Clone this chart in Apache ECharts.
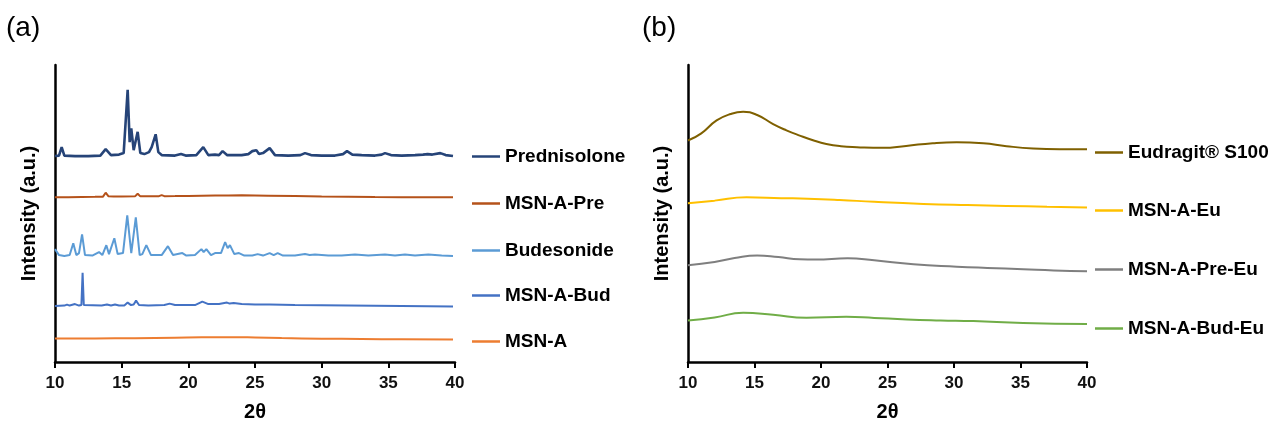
<!DOCTYPE html>
<html>
<head>
<meta charset="utf-8">
<script src="https://cdn.jsdelivr.net/npm/echarts@6/dist/echarts.min.js"></script>
<style>
  html, body { margin: 0; padding: 0; background: #fff; }
  #chart { width: 1269px; height: 427px; }
</style>
</head>
<body>
<div id="chart"></div>
<script>
// 2θ / intensity (a.u., traces offset as in the figure)
var prednisolone = [
    [10.0, 208], [10.3, 208.5], [10.5, 217], [10.7, 208.5], [11.5, 208], [12.5, 208], [13.4, 208.5],
    [13.8, 215], [14.2, 209], [14.8, 209.5], [15.15, 211], [15.45, 275], [15.6, 222], [15.72, 236],
    [15.9, 214], [16.2, 232.5], [16.4, 211], [16.7, 210], [17.05, 212], [17.25, 217], [17.55, 230],
    [17.75, 212], [18.0, 209], [19.0, 208.5], [19.45, 210], [19.8, 208.5], [20.6, 209], [21.12, 217],
    [21.5, 209], [22.0, 209.5], [22.3, 209], [22.57, 213], [22.9, 209], [24.0, 209], [24.5, 210],
    [24.8, 213], [24.95, 211], [25.1, 214], [25.3, 210], [25.6, 211], [26.1, 216], [26.5, 209],
    [27.5, 208.5], [28.4, 209], [28.75, 211], [29.2, 209], [30, 208.5], [31, 208.5], [31.6, 210],
    [31.9, 213], [32.3, 209.5], [33, 209], [34, 208.5], [34.5, 209.5], [34.75, 211], [35.2, 209],
    [36, 208.5], [37, 209], [37.6, 209.5], [37.95, 210], [38.3, 209.5], [38.9, 211], [39.3, 209], [39.85, 208]
];
var msnAPre = [
    [10.0, 166.5], [11, 166.5], [12, 166.7], [13, 166.8], [13.6, 167], [13.8, 171], [14.0, 167.5],
    [14.4, 167.2], [15, 167.2], [16.0, 167.3], [16.2, 170], [16.4, 167.3], [17, 167.4], [17.8, 167.5],
    [18.0, 168.5], [18.2, 167.5], [19, 167.6], [20, 167.8], [21, 168], [22, 168.2], [23, 168.3],
    [24, 168.4], [25, 168.2], [26, 168], [28, 167.6], [30, 167.2], [32, 167], [34, 166.7],
    [36, 166.5], [38, 166.3], [39.85, 166.3]
];
var budesonide = [
    [10.0, 114], [10.1, 115], [10.3, 108], [10.7, 107], [11.1, 108], [11.37, 120], [11.6, 108],
    [11.8, 110], [12.03, 129], [12.25, 108], [12.8, 107.5], [13.3, 111], [13.55, 108], [13.85, 118],
    [14.05, 109], [14.2, 110], [14.45, 125], [14.7, 109], [15.1, 110], [15.42, 148], [15.72, 110],
    [16.06, 146], [16.35, 108], [16.55, 109], [16.85, 118], [17.2, 108], [18.0, 108], [18.47, 117],
    [18.85, 108], [19.55, 110], [19.85, 107.5], [20.5, 108], [20.98, 114], [21.15, 111], [21.35, 114],
    [21.7, 108], [22.0, 110], [22.45, 110], [22.76, 121], [22.95, 115], [23.12, 118], [23.45, 109],
    [23.8, 110], [24.2, 107.5], [24.8, 107.5], [25.2, 109], [25.6, 107.5], [26.1, 110], [26.4, 108],
    [26.7, 110], [27.1, 107.5], [28.0, 107.5], [28.75, 109], [29.1, 108], [29.5, 108.5], [30.5, 107.5],
    [31.5, 107.5], [32.5, 108.5], [33.5, 107.5], [34.75, 108.5], [35.5, 107.5], [36.25, 108.5],
    [37.0, 107.5], [38, 108.5], [39, 107.5], [39.85, 107]
];
var msnABud = [
    [10.0, 56.5], [10.7, 57], [10.9, 58], [11.1, 57], [11.5, 58.5], [11.8, 57], [11.98, 57.5],
    [12.07, 90], [12.16, 57.5], [12.3, 57], [13.5, 57], [13.9, 58], [14.2, 57], [14.5, 58], [14.8, 57],
    [15.2, 57], [15.45, 60], [15.7, 57.5], [15.9, 58], [16.08, 62], [16.3, 57.5], [17.0, 57],
    [18.2, 57.5], [18.6, 59], [19.0, 57.5], [20.5, 57.5], [21.05, 61], [21.5, 58.5], [22.3, 58.5],
    [22.9, 60], [23.1, 59], [23.4, 59.5], [24, 58.5], [25, 58], [26.1, 58], [28, 57.5], [32, 57],
    [36, 56.5], [39.85, 56]
];
var msnA = [
    [10, 23.7], [13, 23.8], [16, 24.1], [19, 24.6], [21, 25], [23, 25.1], [25, 24.8], [27, 24.2],
    [30, 23.6], [33, 23.2], [36, 23], [39.85, 22.7]
];

var eudragit = [
    [10, 223.7], [11, 231], [12.15, 244], [13.2, 250.5], [14.15, 252.7], [15.2, 249.5], [16.4, 240.3],
    [17.4, 234], [18.4, 228.7], [19.4, 224], [20.4, 220.3], [21.5, 218], [22.7, 217], [24.65, 216.3],
    [26.4, 218.3], [28.4, 221], [30.2, 222], [32.2, 221], [33.95, 218], [35.95, 215.7], [37.95, 215], [40, 215]
];
var msnAEu = [
    [10, 160.3], [12, 163], [14.4, 166.3], [17, 165.5], [19, 165], [21.4, 163.7], [24, 161.8],
    [27.7, 159.7], [31, 158.5], [33.95, 157.7], [37, 156.8], [40, 156]
];
var msnAPreEu = [
    [10, 97.7], [12, 101], [13.5, 105], [15.2, 107.7], [16.8, 106], [18.4, 103.7], [19.6, 103.5],
    [22.0, 104.7], [24.0, 102.7], [26.95, 98.7], [30.2, 96.3], [32.5, 95], [35.2, 93.7], [37.5, 92.5], [40, 91.7]
];
var msnABudEu = [
    [10, 42], [12, 45], [14.15, 49.7], [16.4, 47.7], [18.9, 44.7], [21.9, 45.7], [24, 44.5],
    [26.45, 43], [29, 42], [31.45, 41.3], [35.2, 39.3], [40, 38.3]
];

var namesA = ["Prednisolone", "MSN-A-Pre", "Budesonide", "MSN-A-Bud", "MSN-A"];
var namesB = ["Eudragit® S100", "MSN-A-Eu", "MSN-A-Pre-Eu", "MSN-A-Bud-Eu"];
var colorsA = ["#264478", "#B5521A", "#5B9BD5", "#4472C4", "#ED7D31"];
var colorsB = ["#7F6000", "#FFC000", "#7F7F7F", "#70AD47"];
var dataA = [prednisolone, msnAPre, budesonide, msnABud, msnA];
var dataB = [eudragit, msnAEu, msnAPreEu, msnABudEu];
var legendTopA = [158, 205, 252, 297, 343];
var legendTopB = [154, 212, 271, 330];

var font = "'Liberation Sans', Arial, sans-serif";

function xAxis(idx) {
    return {
        type: "value", gridIndex: idx, min: 10, max: 40, interval: 5,
        name: "2θ", nameLocation: "middle", nameGap: 40,
        nameTextStyle: { fontFamily: font, fontWeight: "bold", fontSize: 20, color: "#000" },
        axisLine: { show: true, lineStyle: { color: "#000", width: 2.5 } },
        axisTick: { show: true, length: 6, lineStyle: { color: "#000", width: 2 } },
        axisLabel: { margin: 13, fontFamily: font, fontWeight: "bold", fontSize: 17, color: "#111" },
        splitLine: { show: false }
    };
}
function yAxis(idx) {
    return {
        type: "value", gridIndex: idx, min: 0, max: 300,
        name: "Intensity (a.u.)", nameLocation: "middle", nameGap: 16,
        nameTextStyle: { fontFamily: font, fontWeight: "bold", fontSize: 20, color: "#000" },
        axisLine: { show: true, onZero: false, lineStyle: { color: "#000", width: 2.5 } },
        axisTick: { show: false },
        axisLabel: { show: false },
        splitLine: { show: false }
    };
}

var series = [];
var legends = [];
function addGroup(names, colors, data, tops, gridIdx, legendLeft, smooth) {
    for (var i = 0; i < names.length; i++) {
        series.push({
            name: names[i], type: "line", xAxisIndex: gridIdx, yAxisIndex: gridIdx,
            data: data[i], showSymbol: false, symbol: "none", smooth: smooth || (i === names.length - 1 && gridIdx === 0),
            lineStyle: { color: colors[i], width: (gridIdx === 0 && i === 0) ? 2.6 : 2 },
            itemStyle: { color: colors[i] }
        });
        legends.push({
            data: [names[i]], left: legendLeft, top: tops[i] - 11, orient: "horizontal",
            icon: "rect", itemWidth: 28, itemHeight: 2.5, padding: 0, selectedMode: false,
            textStyle: { fontFamily: font, fontWeight: "bold", fontSize: 19, color: "#000" }
        });
    }
}
addGroup(namesA, colorsA, dataA, legendTopA, 0, 472, false);
addGroup(namesB, colorsB, dataB, legendTopB, 1, 1095, true);

var chart = echarts.init(document.getElementById("chart"));
chart.setOption({
    animation: false,
    backgroundColor: "#fff",
    title: [
        { text: "(a)", left: 6, top: 14, padding: 0, textStyle: { fontFamily: font, fontWeight: "normal", fontSize: 28, color: "#000" } },
        { text: "(b)", left: 642, top: 14, padding: 0, textStyle: { fontFamily: font, fontWeight: "normal", fontSize: 28, color: "#000" } }
    ],
    grid: [
        { left: 55, right: 814, top: 65, bottom: 60 },
        { left: 688, right: 182, top: 65, bottom: 60 }
    ],
    xAxis: [xAxis(0), xAxis(1)],
    yAxis: [yAxis(0), yAxis(1)],
    legend: legends,
    series: series
});
</script>
</body>
</html>
